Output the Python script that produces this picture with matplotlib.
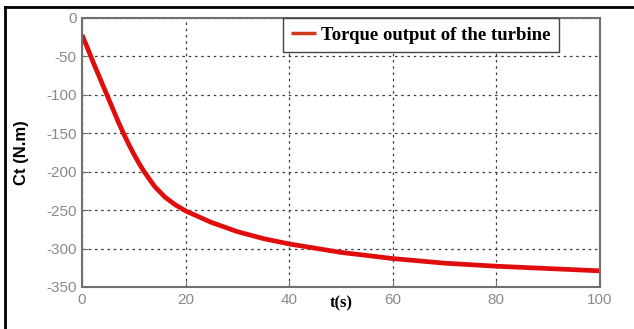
import matplotlib
matplotlib.use("Agg")
import matplotlib.pyplot as plt
from matplotlib.lines import Line2D

plt.rcParams['axes.unicode_minus'] = False

# torque output
t = [0, 1, 2, 3, 4, 5, 6, 7, 8, 9, 10, 11, 12, 14, 16, 18, 20, 25, 30, 35,
     40, 50, 60, 70, 80, 90, 100]
ct = [-22, -38, -55, -71, -87, -103, -119, -135, -150, -164, -177, -189,
      -200, -219, -233, -243, -251, -266, -278, -287, -294, -305, -313,
      -319, -323, -326, -329]

xticks = [0, 20, 40, 60, 80, 100]
yticks = [0, -50, -100, -150, -200, -250, -300, -350]

fig = plt.figure(figsize=(6.34, 3.29), dpi=100)
ax = fig.add_axes([0.1293, 0.1277, 0.8170, 0.8176])

ax.plot(t, ct, color='#e00d0d', lw=3.4, solid_capstyle='butt',
        solid_joinstyle='round', label='Torque output of the turbine')

ax.set_xlim(0, 100)
ax.set_ylim(-350, 0)
ax.set_xticks(xticks)
ax.set_yticks(yticks)
ax.tick_params(direction='in', length=4, color='#707070', labelcolor='#8a8a8a',
               labelsize=11, pad=4)
for lab in ax.get_xticklabels() + ax.get_yticklabels():
    lab.set_family('Liberation Sans')
for s in ax.spines.values():
    s.set_color('#707070')
    s.set_linewidth(1.5)

ax.grid(True, color='#3a3a3a', linestyle=(0, (2, 3)), linewidth=0.9)

ax.set_xlabel('t(s)', fontfamily='Liberation Serif', fontweight='bold', fontsize=12)
ax.xaxis.set_label_coords(0.5, -0.06)
ax.xaxis.label.set_va('center')
ax.set_ylabel('Ct (N.m)', fontfamily='Liberation Sans', fontweight='bold', fontsize=12)
ax.yaxis.set_label_coords(-0.117, 0.5)
ax.yaxis.label.set_va('center')

leg = ax.legend(loc='upper left', bbox_to_anchor=(0.388, 1.0), borderaxespad=0,
                prop={'family': 'Liberation Serif', 'weight': 'bold', 'size': 13.5},
                handlelength=1.3, handletextpad=0.3, borderpad=0.45,
                fancybox=False, framealpha=1)
leg.get_frame().set_edgecolor('#444444')
leg.get_frame().set_linewidth(1.0)
leg.get_lines()[0].set_color('#d03a1a')
leg.get_lines()[0].set_linewidth(2.5)

# picture frame (top and left edges only)
fig.add_artist(Line2D([0.0079, 1.0], [0.978, 0.978], color='black', lw=2.0,
                      transform=fig.transFigure))
fig.add_artist(Line2D([0.0079, 0.0079], [0.0, 0.978], color='black', lw=2.0,
                      transform=fig.transFigure))

fig.savefig('out.png', dpi=100)
